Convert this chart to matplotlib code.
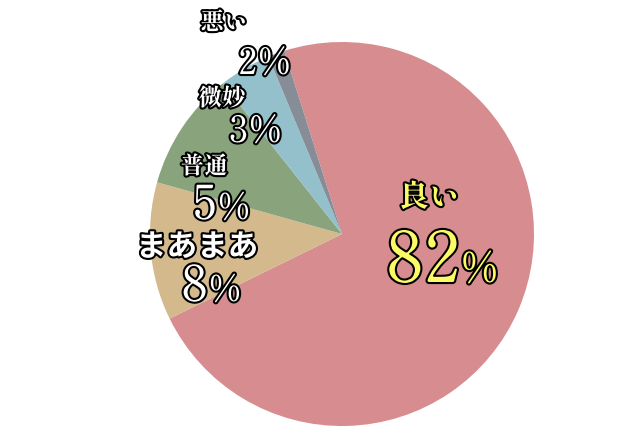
import matplotlib.pyplot as plt
import matplotlib.patheffects as pe

# Veriler (etiketteki yüzdeler ve resimdeki dilim büyüklükleri)
categories = ['良い', 'まあまあ', '普通', '微妙', '悪い']
label_pct = [82, 8, 5, 3, 2]
# dilimler resimde etiketlerle orantılı değil; açıdan okunan değerler
slice_sizes = [72.6, 11.6, 10.0, 4.4, 1.4]
colors = ['#d78c8f', '#d3b98c', '#89a37d', '#94c0cc', '#878d96']

W, H = 640, 439
fig = plt.figure(figsize=(W / 100, H / 100), dpi=100)

cx, cy, r = 342, 235, 192
ax = fig.add_axes([(cx - r) / W, (H - cy - r) / H, 2 * r / W, 2 * r / H])
ax.pie(slice_sizes, colors=colors, startangle=107.5, counterclock=False,
       radius=1, wedgeprops=dict(linewidth=0))
ax.set_xlim(-1, 1)
ax.set_ylim(-1, 1)
ax.axis('off')

stroke = [pe.withStroke(linewidth=3, foreground='black')]
mincho = ['Shippori Mincho B1', 'Noto Serif CJK JP', 'Noto Sans CJK JP', 'DejaVu Sans']
gothic = ['Noto Sans CJK JP', 'DejaVu Sans']
num_font = ['Shippori Mincho B1', 'Noto Serif CJK JP', 'Liberation Serif', 'DejaVu Sans']


def px(x, y):
    return x / W, 1 - y / H


# etiket yerleşimi: (isim merkezi, isim boyu, yazı tipi, sayı/yüzde ayrımı, taban çizgisi, sayı boyu, % boyu, renk)
layout = {
    '良い': ((429, 199), 22, mincho, 460, 283, 51, 30, '#fcfb66'),
    'まあまあ': ((197, 248), 22, gothic, 208, 302, 36, 26, 'white'),
    '普通': ((204, 168), 17, mincho, 217, 220, 34, 26, 'white'),
    '微妙': ((222, 100), 17, mincho, 248, 143, 26.5, 26.5, 'white'),
    '悪い': ((224, 24), 17, mincho, 257, 75, 26.5, 26.5, 'white'),
}

for name, pct in zip(categories, label_pct):
    (nx, ny), nsize, jfont, sx, base, dsize, psize, col = layout[name]
    fig.text(*px(nx, ny), name, ha='center', va='center', fontsize=nsize,
             family=jfont, fontweight='bold', color=col, path_effects=stroke)
    fig.text(*px(sx, base), str(pct), ha='right', va='baseline',
             fontsize=dsize, family=num_font, color=col, path_effects=stroke)
    fig.text(*px(sx, base), '%', ha='left', va='baseline',
             fontsize=psize, family=num_font, color=col, path_effects=stroke)

fig.savefig('out.png', dpi=100)
